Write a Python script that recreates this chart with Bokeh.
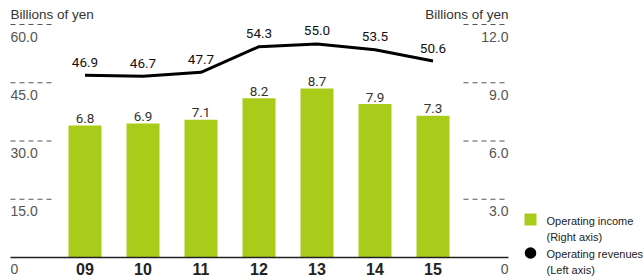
from bokeh.plotting import figure
from bokeh.models import Range1d, ColumnDataSource
from bokeh.core.properties import value
from bokeh.embed import file_html
from bokeh.resources import INLINE

# ---- data ----
years = ["09", "10", "11", "12", "13", "14", "15"]
operating_income = [6.8, 6.9, 7.1, 8.2, 8.7, 7.9, 7.3]        # right axis
operating_revenues = [46.9, 46.7, 47.7, 54.3, 55.0, 53.5, 50.6]  # left axis
left_ticks = [15, 30, 45, 60]
left_tick_labels = ["15.0", "30.0", "45.0", "60.0"]
right_ticks = [3, 6, 9, 12]
right_tick_labels = ["3.0", "6.0", "9.0", "12.0"]
unit_label = "Billions of yen"
legend_income = ["Operating income", "(Right axis)"]
legend_revenue = ["Operating revenues", "(Left axis)"]

# ---- layout geometry (figure pixels) ----
W, H = 643, 278
X0_PX, PITCH = 84.5, 58.0         # centre of first bar, spacing
Y0_PX, PPU_L = 257.0, 233.0 / 60  # baseline pixel, pixels per left unit
RATIO = 5.0                       # left / right

def xd(px):
    return (px - X0_PX) / PITCH

def yd(py):
    return (Y0_PX - py) / PPU_L

GREEN = "#a9cc1b"
COND = "Roboto"
SANS = "Liberation Sans"

p = figure(width=W, height=H, output_backend="svg", toolbar_location=None,
           x_range=Range1d(xd(0), xd(W)), y_range=Range1d(yd(H), yd(0)),
           min_border=0, outline_line_color=None)
p.extra_y_ranges = {"right": Range1d(yd(H) / RATIO, yd(0) / RATIO)}
p.xaxis.visible = False
p.yaxis.visible = False
p.grid.visible = False
p.background_fill_color = None
p.border_fill_color = None

idx = list(range(len(years)))
src = ColumnDataSource(dict(x=idx, inc=operating_income, rev=operating_revenues,
                            inc_lbl=[f"{v:.1f}" for v in operating_income],
                            rev_lbl=[f"{v:.1f}" for v in operating_revenues],
                            years=years))

# bars
p.vbar(x="x", top="inc", bottom=0, width=33 / PITCH, source=src,
       y_range_name="right", fill_color=GREEN, line_color=None)
p.text(x="x", y="inc", text="inc_lbl", source=src, y_range_name="right",
       y_offset=-7, text_align="center", text_baseline="middle",
       text_font=value(COND), text_font_size="13.5px", text_color="#333333")

# line
p.line(x="x", y="rev", source=src, line_color="#000000", line_width=3,
       line_join="round")
p.text(x="x", y="rev", text="rev_lbl", source=src,
       y_offset=-13, text_align="center", text_baseline="middle",
       text_font=value(COND), text_font_size="13.5px", text_color="#111111")

# dashed tick marks and labels
lx0, lx1 = xd(10), xd(55)
rx0, rx1 = xd(463), xd(508)
p.segment(x0=[lx0] * len(left_ticks), x1=[lx1] * len(left_ticks),
          y0=left_ticks, y1=left_ticks, line_color="#555555", line_width=1,
          line_dash="5 4")
p.segment(x0=[rx0] * len(right_ticks), x1=[rx1] * len(right_ticks),
          y0=right_ticks, y1=right_ticks, y_range_name="right",
          line_color="#555555", line_width=1, line_dash="5 4")
p.text(x=[lx0] * len(left_ticks), y=left_ticks, text=left_tick_labels,
       y_offset=12, text_align="left", text_baseline="middle",
       text_font=value(SANS), text_font_size="14px", text_color="#555555")
p.text(x=[rx1] * len(right_ticks), y=right_ticks, text=right_tick_labels,
       y_range_name="right", y_offset=12, text_align="right",
       text_baseline="middle", text_font=value(SANS), text_font_size="14px",
       text_color="#555555")
p.text(x=[lx0, rx1], y=[0, 0], text=["0", "0"], y_offset=11,
       text_align=["left", "right"], text_baseline="middle",
       text_font=value(SANS), text_font_size="14px", text_color="#555555")

# unit labels
p.text(x=[lx0, rx1], y=[yd(14), yd(14)], text=[unit_label, unit_label],
       text_align=["left", "right"], text_baseline="middle",
       text_font=value(SANS), text_font_size="13.5px", text_color="#333333")

# baseline
p.segment(x0=[lx0], x1=[rx1], y0=[0], y1=[0], line_color="#222222",
          line_width=1.5)

# category labels
p.text(x="x", y=0, text="years", source=src, y_offset=5,
       text_align="center", text_baseline="top", text_font=value(SANS),
       text_font_style="bold", text_font_size="16px", text_color="#222222")

# legend
p.scatter(x=[xd(530)], y=[yd(219)], marker="square", size=12,
          fill_color=GREEN, line_color=None)
p.scatter(x=[xd(530)], y=[yd(252.5)], marker="circle", size=11.5,
          fill_color="#000000", line_color=None)
p.text(x=[xd(546)] * 4, y=[yd(220), yd(236), yd(253), yd(269)],
       text=legend_income + legend_revenue, text_align="left",
       text_baseline="middle", text_font=value(SANS),
       text_font_size="11px", text_color="#222222")

open("out.html", "w").write(file_html(p, INLINE))
